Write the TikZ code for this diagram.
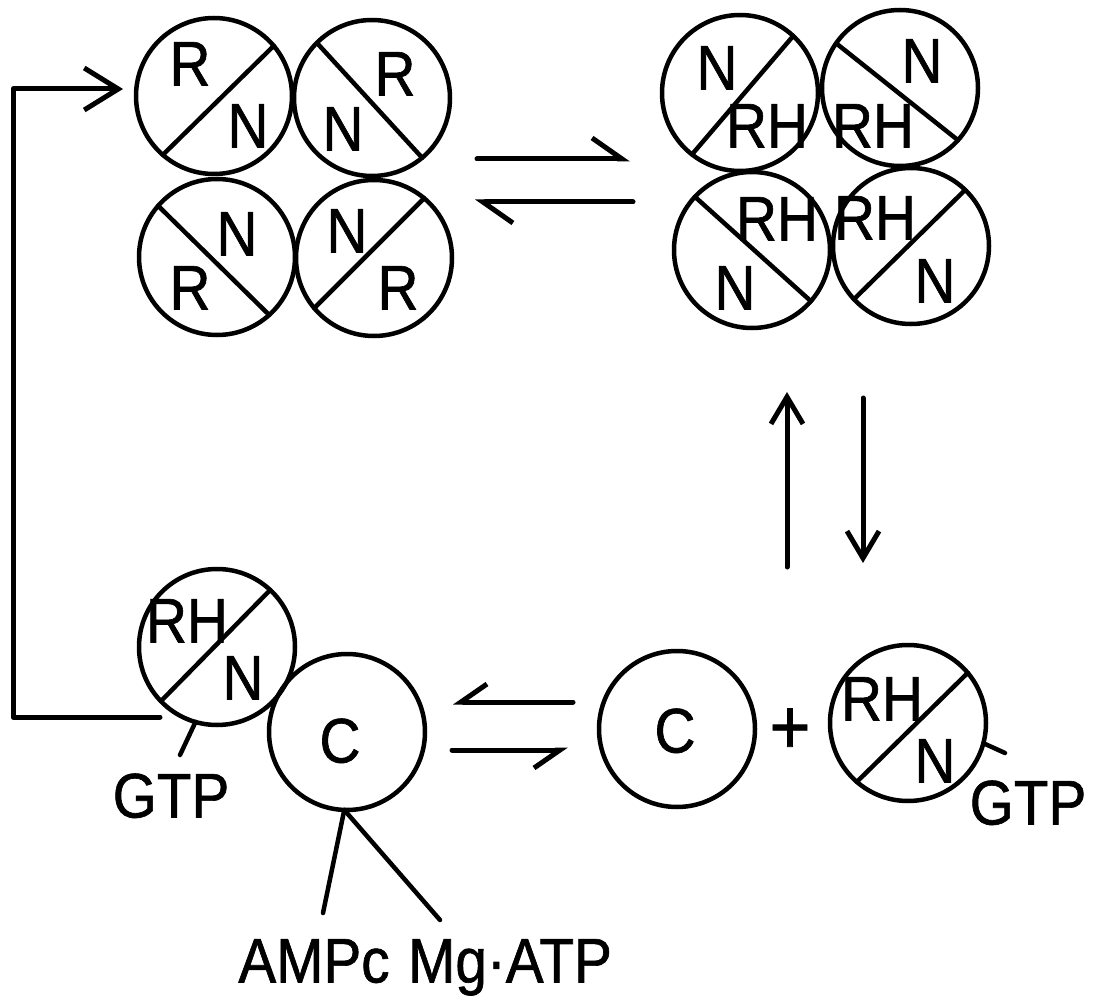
\documentclass[tikz,border=0pt]{standalone}
\usepackage{fontspec}
\setmainfont[FakeStretch=0.9,FakeBold=1]{Liberation Sans}
\usetikzlibrary{arrows.meta,calc}
\tikzset{
  ring/.style={circle,draw,line width=4.5pt,minimum size=156pt,inner sep=0pt,outer sep=0pt},
  lbl/.style={inner sep=0pt,text height=45pt,text depth=0pt,font=\fontsize{63}{70}\selectfont},
  seg/.style={line width=4.5pt,line cap=round},
  arr/.style={line width=5pt,line cap=round,line join=round},
  harp/.style={arr,-{Straight Barb[harpoon,length=30pt,width=42pt]}},
  harpr/.style={arr,-{Straight Barb[harpoon,swap,length=26pt,width=36pt]}},
  vhead/.style={arr,-{Straight Barb[length=27pt,width=32pt]}}
}
\begin{document}
\begin{tikzpicture}[x=1pt,y=-1pt]
\fill[white] (0,0) rectangle (1098,1000);
\useasboundingbox (0,0) rectangle (1098,1000);
% ---- top-left tetramer
\node[ring] (L1) at (214,96) {};
\node[ring] (L2) at (372,98) {};
\node[ring] (L3) at (217,257) {};
\node[ring] (L4) at (374,258) {};
\draw[seg] (L1.229) -- (L1.40);
\draw[seg] (L2.135) -- (L2.310);
\draw[seg] (L3.139) -- (L3.312);
\draw[seg] (L4.220) -- (L4.50);
\node[lbl] (L1a) at ($(L1)+(-24,-33)$) {R};
\node[lbl] (L1b) at ($(L1)+(34,29)$) {N};
\node[lbl] (L2a) at ($(L2)+(23,-25)$) {R};
\node[lbl] (L2b) at ($(L2)+(-29,30)$) {N};
\node[lbl] (L3a) at ($(L3)+(20,-24)$) {N};
\node[lbl] (L3b) at ($(L3)+(-27,30)$) {R};
\node[lbl] (L4a) at ($(L4)+(-27,-28)$) {N};
\node[lbl] (L4b) at ($(L4)+(24,29)$) {R};
% ---- top-right tetramer
\node[ring] (R1) at (740,93) {};
\node[ring] (R2) at (900,88) {};
\node[ring] (R3) at (752,250) {};
\node[ring] (R4) at (911,246) {};
\draw[seg] (R1.232) -- (R1.47);
\draw[seg] (R2.145) -- (R2.318);
\draw[seg] (R3.137) -- (R3.319);
\draw[seg] (R4.223) -- (R4.46);
\node[lbl] (R1a) at ($(R1)+(-23,-26)$) {N};
\node[lbl] (R1b) at ($(R1)+(27,32)$) {RH};
\node[lbl] (R2a) at ($(R2)+(22,-28)$) {N};
\node[lbl] (R2b) at ($(R2)+(-27,37)$) {RH};
\node[lbl] (R3a) at ($(R3)+(25,-32)$) {RH};
\node[lbl] (R3b) at ($(R3)+(-17,37)$) {N};
\node[lbl] (R4a) at ($(R4)+(-36,-29)$) {RH};
\node[lbl] (R4b) at ($(R4)+(24,34)$) {N};
% ---- bottom-left complex
\node[ring] (B1) at (217,647) {};
\node[ring] (BC) at (347,732) {};
\draw[seg] (B1.224) -- (B1.47);
\node[lbl] (B1a) at ($(B1)+(-30,-27)$) {RH};
\node[lbl] (B1b) at ($(B1)+(26,30)$) {N};
\node[lbl] (BCt) at ($(BC)+(-7,8)$) {C};
\node[lbl] (gtp1) at (171,795) {GTP};
\coordinate (g1e) at (180,755);
\draw[seg] (B1.254) -- (g1e);
\node[lbl] (ampc) at (314,960) {AMPc};
\node[lbl] (mgatp) at (510,960) {Mg·ATP};
\coordinate (ampce) at (323,913);
\coordinate (mge) at (440,920);
\draw[seg] (BC.268) -- (ampce);
\draw[seg] (BC.268) -- (mge);
% ---- bottom-right: C + RH/N
\node[ring] (C2) at (677,729) {};
\node[lbl] (C2t) at ($(C2)+(-2,1)$) {C};
\node[lbl,font=\fontsize{78}{80}\selectfont] (plus) at (790,731) {+};
\node[ring] (B2) at (908,723) {};
\draw[seg] (B2.229) -- (B2.40);
\node[lbl] (B2a) at ($(B2)+(-26,-25)$) {RH};
\node[lbl] (B2b) at ($(B2)+(27,37)$) {N};
\coordinate (g2e) at (1005,753);
\draw[seg] (B2.345) -- (g2e);
\node[lbl] (gtp2) at (1028,802) {GTP};
% ---- equilibrium arrows
\coordinate (t1s) at (477,159); \coordinate (t1e) at (630,159);
\coordinate (t2s) at (633,202); \coordinate (t2e) at (475,202);
\draw[harp] (t1s) -- (t1e);
\draw[harp] (t2s) -- (t2e);
\coordinate (v1s) at (787,567); \coordinate (v1e) at (787,392);
\coordinate (v2s) at (863,398); \coordinate (v2e) at (863,563);
\draw[vhead] (v1s) -- (v1e);
\draw[vhead] (v2s) -- (v2e);
\coordinate (h1s) at (573,702); \coordinate (h1e) at (453,702);
\coordinate (h2s) at (452,750); \coordinate (h2e) at (568,750);
\draw[harpr] (h1s) -- (h1e);
\draw[harpr] (h2s) -- (h2e);
% ---- return bracket
\coordinate (brs) at (160,717);
\coordinate (brc) at (13,89);
\coordinate (brt) at (123,89);
\draw[arr,-{Straight Barb[length=34pt,width=42pt]}] (brs) -| (brc) -- (brt);
\end{tikzpicture}
\end{document}
